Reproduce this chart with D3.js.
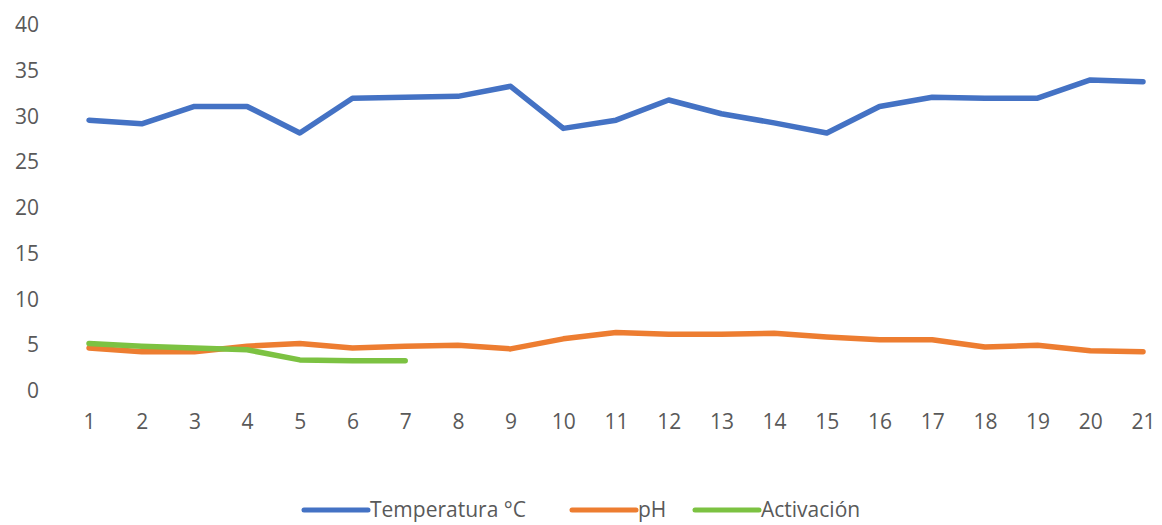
<!DOCTYPE html>
<html>
<head>
<meta charset="utf-8">
<script src="https://cdnjs.cloudflare.com/ajax/libs/d3/7.8.5/d3.min.js"></script>
<style>
body { margin: 0; background: #fff; }
text { font-family: "Open Sans", Lato, sans-serif; fill: #595959; }
</style>
</head>
<body>
<div id="chart"></div>
<script>
var days = d3.range(1, 22);
var temperatura = [29.6, 29.2, 31.1, 31.1, 28.2, 32, 32.1, 32.2, 33.3, 28.7, 29.6, 31.8, 30.3, 29.3, 28.2, 31.1, 32.1, 32, 32, 34, 33.8];
var ph = [4.7, 4.3, 4.3, 4.9, 5.2, 4.7, 4.9, 5, 4.6, 5.7, 6.4, 6.2, 6.2, 6.3, 5.9, 5.6, 5.6, 4.8, 5, 4.4, 4.3];
var activacion = [5.2, 4.9, 4.7, 4.5, 3.4, 3.3, 3.3];
var yTicks = [0, 5, 10, 15, 20, 25, 30, 35, 40];

var series = [
  {name: "Temperatura °C", values: temperatura, color: "#4472C4"},
  {name: "pH", values: ph, color: "#ED7D31"},
  {name: "Activación", values: activacion, color: "#7CC242"}
];

var width = 1162, height = 525;

var svg = d3.select("#chart").append("svg")
  .attr("width", width)
  .attr("height", height);

var x = d3.scaleLinear().domain([1, 21]).range([89, 1143]);
var y = d3.scaleLinear().domain([0, 40]).range([391, 25]);

// Y axis labels only
svg.append("g")
  .attr("transform", "translate(39,0)")
  .call(d3.axisLeft(y).tickValues(yTicks).tickSize(0).tickPadding(0))
  .call(g => g.select(".domain").remove())
  .selectAll("text")
    .style("font-size", "21px")
    .attr("fill", "#595959");

// X axis labels
svg.append("g")
  .attr("transform", "translate(0,414)")
  .call(d3.axisBottom(x).tickValues(days).tickFormat(d3.format("d")).tickSize(0).tickPadding(0))
  .call(g => g.select(".domain").remove())
  .selectAll("text")
    .style("font-size", "21px")
    .attr("fill", "#595959");

var line = d3.line()
  .x((d, i) => x(days[i]))
  .y(d => y(d));

series.forEach(function(s) {
  svg.append("path")
    .datum(s.values)
    .attr("d", line)
    .attr("fill", "none")
    .attr("stroke", s.color)
    .attr("stroke-width", 5.5)
    .attr("stroke-linejoin", "round")
    .attr("stroke-linecap", "round");
});

// legend
var legendX = [304, 572, 695];
var legend = svg.append("g");
series.forEach(function(s, i) {
  var g = legend.append("g").attr("transform", "translate(" + legendX[i] + ",510)");
  g.append("line")
    .attr("x1", 0).attr("x2", 64)
    .attr("stroke", s.color)
    .attr("stroke-width", 5)
    .attr("stroke-linecap", "round");
  g.append("text")
    .attr("x", 66)
    .attr("dy", "0.35em")
    .style("font-size", "21px")
    .text(s.name);
});
</script>
</body>
</html>
